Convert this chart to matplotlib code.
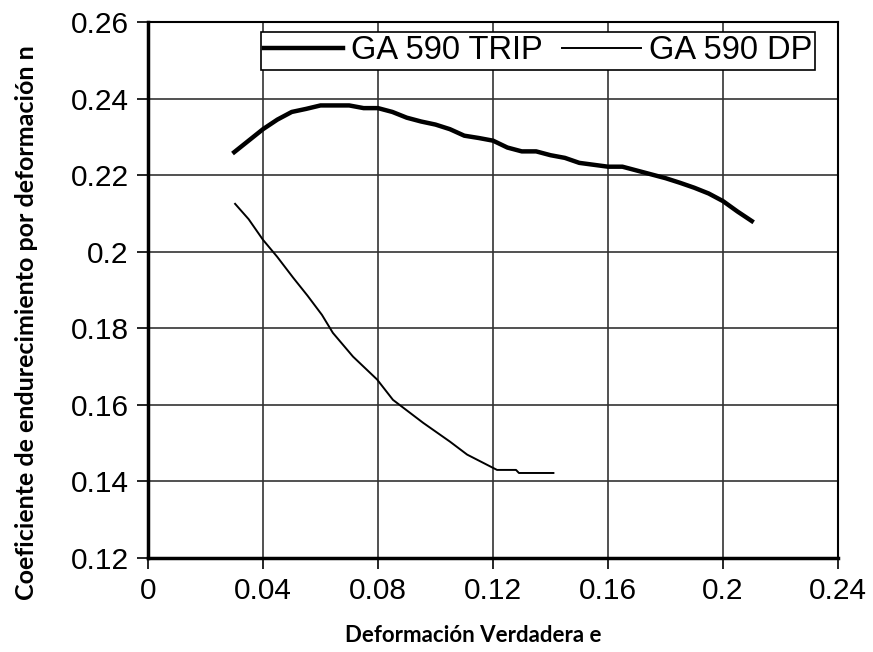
import numpy as np
import matplotlib.pyplot as plt

# GA 590 TRIP
trip_e = [0.03, 0.035, 0.04, 0.045, 0.05, 0.055, 0.06, 0.065, 0.07, 0.075,
          0.08, 0.085, 0.09, 0.095, 0.10, 0.105, 0.11, 0.115, 0.12, 0.125,
          0.13, 0.135, 0.14, 0.145, 0.15, 0.155, 0.16, 0.165, 0.17, 0.175,
          0.18, 0.185, 0.19, 0.195, 0.20, 0.205, 0.21]
trip_n = [0.226, 0.229, 0.232, 0.2345, 0.2365, 0.2373, 0.2382, 0.2382, 0.2382, 0.2375,
          0.2375, 0.2365, 0.235, 0.234, 0.2332, 0.232, 0.2303, 0.2297, 0.229, 0.2272,
          0.2262, 0.2262, 0.2252, 0.2245, 0.2232, 0.2227, 0.2222, 0.2222, 0.2212, 0.2202,
          0.2192, 0.218, 0.2167, 0.2152, 0.2132, 0.2105, 0.208]

# GA 590 DP
dp_e = [0.0303, 0.035, 0.04, 0.0449, 0.0505, 0.0555, 0.0605, 0.0643, 0.0713, 0.0797,
        0.0852, 0.0957, 0.105, 0.111, 0.1214, 0.128, 0.129, 0.141]
dp_n = [0.2125, 0.2085, 0.2031, 0.1987, 0.1932, 0.1885, 0.1835, 0.1788, 0.1726, 0.1666,
        0.1613, 0.1553, 0.1504, 0.147, 0.143, 0.143, 0.1422, 0.1422]

x_ticks = [0, 0.04, 0.08, 0.12, 0.16, 0.2, 0.24]
x_labels = ['0', '0.04', '0.08', '0.12', '0.16', '0.2', '0.24']
y_ticks = [0.12, 0.14, 0.16, 0.18, 0.2, 0.22, 0.24, 0.26]
y_labels = ['0.12', '0.14', '0.16', '0.18', '0.2', '0.22', '0.24', '0.26']

fig = plt.figure(figsize=(8.73, 6.52), dpi=100)
ax = fig.add_axes([0.1695, 0.1442, 0.7905, 0.8221])

ax.plot(trip_e, trip_n, color='black', lw=3.2, label='GA 590 TRIP')
ax.plot(dp_e, dp_n, color='black', lw=1.4, label='GA 590 DP')

ax.set_xlim(0, 0.24)
ax.set_ylim(0.12, 0.26)
ax.set_xticks(x_ticks)
ax.set_xticklabels(x_labels)
ax.set_yticks(y_ticks)
ax.set_yticklabels(y_labels)
ax.grid(True, color='#333333', lw=1.2)
ax.set_axisbelow(True)

for side in ['left', 'bottom']:
    ax.spines[side].set_linewidth(2.5)
for side in ['top', 'right']:
    ax.spines[side].set_linewidth(1.5)

ax.tick_params(direction='out', length=8, width=1.2, labelsize=21.5, pad=6)
for lab in ax.get_xticklabels() + ax.get_yticklabels():
    lab.set_family('Liberation Sans')

ax.set_xlabel('Deformación Verdadera e', family='Lato', weight='bold', fontsize=16)
ax.set_ylabel('Coeficiente de endurecimiento por deformación n', family='Lato',
              weight='bold', fontsize=18)
# labels sit off-centre in the original
ax.xaxis.set_label_coords(0.471, -0.125)
ax.yaxis.set_label_coords(-0.16, 0.44)

leg = ax.legend(loc='upper right', bbox_to_anchor=(0.967, 0.981), ncol=2,
                fancybox=False, edgecolor='black', framealpha=1,
                prop={'family': 'Liberation Sans', 'size': 23.5},
                handlelength=2.4, handletextpad=0.25, columnspacing=0.6,
                borderpad=0.1, borderaxespad=0)
leg.get_frame().set_linewidth(1.2)

fig.savefig('out.png', dpi=100)
